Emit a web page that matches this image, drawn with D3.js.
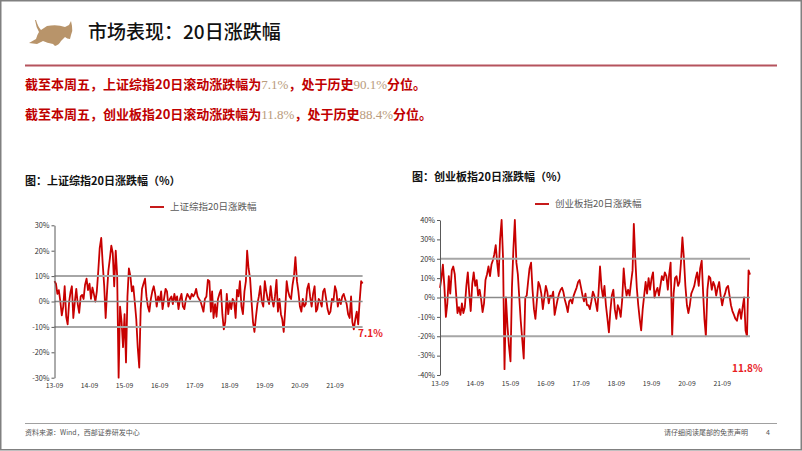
<!DOCTYPE html>
<html>
<head>
<meta charset="utf-8">
<script src="https://cdn.jsdelivr.net/npm/d3@7"></script>
<style>
  html, body { margin: 0; padding: 0; background: #fff; }
  svg { display: block; }
  text { font-family: "Noto Sans CJK SC", "Noto Sans", sans-serif; }
</style>
</head>
<body>
<svg id="page" width="802" height="451"></svg>
<script>
// ---- data ----
const startMonth = '2013-09-01';          // first point, then one point every half month
const tickMonths = ['2013-09-01','2014-09-01','2015-09-01','2016-09-01','2017-09-01',
                    '2018-09-01','2019-09-01','2020-09-01','2021-09-01'];

// 上证综指 20日涨跌幅 (%), half-monthly
const shValues = [
  8,7,3,4.5,0,-5.5,-2,6,-6,-9,
  0,4,6,-6.5,0,5,-1,-4.5,2,2.6,
  1,6.5,9,4.5,7,1,5.5,3,0,4,
  12,21,25,15,6,-6.5,3,12,17,22,
  19,6,20,10,-30,-2,-8,-18,-5,-24,
  2,13,10,4,6,0,-7,-18,-26,-3,
  5,7,9,2,-2,-4,1,4,6,3,
  -2,2,0,4,-3,1,5,4,-2,1,
  2,-1,3,0,2,-3,1,3,-2,-3,
  1,3,2,1,3,2,3,5,2,1,
  0,-2,-4,1,2,8.5,8,-4,4,-6.5,
  -1,-6,1,3,4.6,-5,-11,-8,3,-5,
  0,-3,1,0,-6.5,4.6,2,8,-2,-5,
  4,8,20,13,9,0,-8,-12,-6,-1,
  2,6,0,-2,8,4,1,-1,6,1,
  -2,2,8.5,-4,1,-5,-7,-12,-3,8,
  4,2,1,6.5,10,17.5,8,4,-2,-4,
  1,-2,-1,5,7,2,-2,3,6,-4,
  -3,1,0,-2,4,5,1,-3,-5,-4,
  1,0,6,4,-2,1,-1,2,3,1,
  -1,-5,-6.5,2,-8,-11,-7,-4,-9,0,
  8,7.1
];

// 创业板指 20日涨跌幅 (%), half-monthly
const cybValues = [
  5,10,17,6,-10,-3,11,2,14,16,
  12,1,-8,-5,-9,-3,-8,-5,6,13,
  2,-7,7,13,6,9,1,4,-1,-7.5,
  -3,9,12,16,11,17,19,22,27,18,
  11,30,40,20,-37,0,-15,-25,-33,5,
  25,40,18,12,0,-12,-22,-31.5,0,1,
  8,15,18,4,-6,-11,-1,8,6,2,
  -6,0,6,3,-3,1,0,3,-9,-5,
  -1,2,4,5,3,-1,-4,-7.5,-2,-1,
  -3,1,3,5,8,9,5,1,-2,2,
  -4,-4,-6,-2,3,1,-3,-7,3,16,
  5,0,6,-4,-11,-18,-7,1,4,-6,
  -11,-4,-6,-10,-1,15,6,1,4,1,
  8,14,38,20,5,-4,-11,-17,-6,1,
  8,2,10,4,10,13,0,3,5,1,
  6,11,9,13,11,4,12,18,-20,2,
  10,11,6,8,18,31,20,6,-4,-8,
  -4,2,4,6,10,13,6,15,19,2,
  -11,-20,4,11,10,4,8,6,1,5,
  8,1,-4,0,2,5,6,1,-4,-7,
  -9,-11,-12,-8,-6,-11,-5,0,-17,-20,
  14,11.8
];

const shTicks = [30,20,10,0,-10,-20,-30];
const cybTicks = [40,30,20,10,0,-10,-20,-30,-40];
const shBands = [10,-10,0];
const cybBands = [20,-20,0];

const shLatest = 7.1, shPercentile = 90.1;
const cybLatest = 11.8, cybPercentile = 88.4;

// ---- helpers ----
const parse = d3.timeParse('%Y-%m-%d');
const d0 = parse(startMonth);
const dateAt = i => d3.timeDay.offset(d3.timeMonth.offset(d0, Math.floor(i / 2)), (i % 2) * 15);
const tickDates = tickMonths.map(parse);
const fmtTick = d3.timeFormat('%y-%m');

const svg = d3.select('#page');

// page frame
svg.append('rect')
    .attr('x', 0.75).attr('y', 0.75)
    .attr('width', 800.5).attr('height', 449)
    .attr('fill', '#fff')
    .attr('stroke', '#808080')
    .attr('stroke-width', 1.5);

// logo (bull)
svg.append('path')
    .attr('transform', 'translate(27,17)')
    .attr('fill', '#b8946a')
    .attr('d', 'M9,3 Q11,10 14,13 L20,9 Q30,7 38,10 L42,8 L44,4 L45,9 Q46,14 44,18 L43,22 ' +
               'Q40,22 38,20 L34,24 Q32,28 28,29 L26,27 Q20,26 16,24 L10,27 L2,26 L9,22 ' +
               'Q10,18 12,15 Q9,10 8,3 Z');

// page title
svg.append('text')
    .attr('x', 88).attr('y', 39)
    .attr('font-size', 19)
    .attr('font-weight', 500)
    .attr('fill', '#111')
    .text('市场表现：20日涨跌幅');

// red rule
svg.append('line')
    .attr('x1', 25).attr('x2', 777)
    .attr('y1', 65.5).attr('y2', 65.5)
    .attr('stroke', '#b5535d')
    .attr('stroke-width', 2);

// summary lines
const summary = [
  {y: 88.5, parts: [['截至本周五，上证综指20日滚动涨跌幅为', 0], [shLatest + '%', 1],
                    ['，处于历史', 0], [shPercentile + '%', 1], ['分位。', 0]]},
  {y: 118.5, parts: [['截至本周五，创业板指20日滚动涨跌幅为', 0], [cybLatest + '%', 1],
                     ['，处于历史', 0], [cybPercentile + '%', 1], ['分位。', 0]]}
];
summary.forEach(s => {
  const t = svg.append('text').attr('x', 25).attr('y', s.y).attr('font-size', 13);
  s.parts.forEach(p => {
    t.append('tspan')
        .text(p[0])
        .attr('fill', p[1] ? '#b99b7b' : '#c00000')
        .attr('font-weight', p[1] ? 400 : 700)
        .attr('font-family', p[1] ? '"Liberation Serif", serif' : null);
  });
});

// ---- panels ----
function drawPanel(cfg) {
  const n = cfg.values.length;
  const x = d3.scaleTime()
      .domain([dateAt(0), dateAt(n - 1)])
      .range([cfg.left, cfg.right]);
  const y = d3.scaleLinear()
      .domain(cfg.yDomain)
      .range([cfg.bottom, cfg.top]);

  const g = svg.append('g');

  g.append('text')
      .attr('x', cfg.titleX).attr('y', cfg.titleY)
      .attr('font-size', 11)
      .attr('font-weight', 700)
      .attr('fill', '#111')
      .text(cfg.title);

  // legend
  g.append('line')
      .attr('x1', cfg.legendX).attr('x2', cfg.legendX + 14)
      .attr('y1', cfg.legendY).attr('y2', cfg.legendY)
      .attr('stroke', '#c00000').attr('stroke-width', 1.8);
  g.append('text')
      .attr('x', cfg.legendX + 20).attr('y', cfg.legendY + 3.3)
      .attr('font-size', 9.5)
      .attr('fill', '#595959')
      .text(cfg.legend);

  // series line
  const line = d3.line()
      .x((d, i) => x(dateAt(i)))
      .y(d => y(d));
  g.append('path')
      .datum(cfg.values)
      .attr('d', line)
      .attr('fill', 'none')
      .attr('stroke', '#c80000')
      .attr('stroke-width', 1.8)
      .attr('stroke-linejoin', 'round');

  // reference lines
  g.selectAll('line.band')
      .data(cfg.bands)
      .join('line')
      .attr('class', 'band')
      .attr('x1', cfg.left).attr('x2', x(dateAt(n - 1)))
      .attr('y1', d => y(d)).attr('y2', d => y(d))
      .attr('stroke', d => d === 0 ? '#8a8a8a' : '#a6a6a6')
      .attr('stroke-width', d => d === 0 ? 1.5 : 2);

  // y axis
  const yAxis = d3.axisLeft(y)
      .tickValues(cfg.yTicks)
      .tickSize(3)
      .tickSizeOuter(0)
      .tickPadding(2)
      .tickFormat(d => d + '%');
  const ya = g.append('g')
      .attr('transform', `translate(${cfg.left},0)`)
      .call(yAxis);
  ya.select('.domain').attr('stroke', '#595959');
  ya.selectAll('.tick line').attr('stroke', '#595959');
  ya.selectAll('.tick text')
      .attr('font-family', '"Liberation Sans", Arial, sans-serif')
      .attr('font-size', cfg.yFont)
      .attr('fill', '#333');

  // x labels
  g.selectAll('text.xl')
      .data(tickDates)
      .join('text')
      .attr('class', 'xl')
      .attr('x', d => x(d))
      .attr('y', cfg.xLabelY)
      .attr('text-anchor', 'middle')
      .attr('font-family', '"Liberation Sans", Arial, sans-serif')
      .attr('font-size', cfg.xFont)
      .attr('fill', '#333')
      .text(d => fmtTick(d));

  // latest value
  g.append('text')
      .attr('x', x(dateAt(n - 1)) + cfg.endDx)
      .attr('y', y(cfg.endAt))
      .attr('font-family', '"Liberation Sans", Arial, sans-serif')
      .attr('font-size', 10)
      .attr('font-weight', 700)
      .attr('fill', '#e8211f')
      .text(cfg.values[n - 1] + '%');
}

drawPanel({
  values: shValues, yDomain: [-30, 30], yTicks: shTicks, bands: shBands,
  left: 54.5, right: 362.6, top: 225.3, bottom: 377.7,
  title: '图：上证综指20日涨跌幅（%）', titleX: 25, titleY: 184.5,
  legend: '上证综指20日涨跌幅', legendX: 150, legendY: 207,
  xLabelY: 388, xFont: 6.8, yFont: 7.3,
  endDx: -4.5, endAt: -14.1
});

drawPanel({
  values: cybValues, yDomain: [-40, 40], yTicks: cybTicks, bands: cybBands,
  left: 440, right: 750, top: 220, bottom: 375,
  title: '图：创业板指20日涨跌幅（%）', titleX: 412, titleY: 181,
  legend: '创业板指20日涨跌幅', legendX: 535, legendY: 204,
  xLabelY: 386, xFont: 6.8, yFont: 7.3,
  endDx: -18, endAt: -38.4
});

// footer
svg.append('line')
    .attr('x1', 25).attr('x2', 777)
    .attr('y1', 423.5).attr('y2', 423.5)
    .attr('stroke', '#a0a0a0').attr('stroke-width', 1);
svg.append('text')
    .attr('x', 25).attr('y', 434.5)
    .attr('font-size', 7).attr('fill', '#555')
    .text('资料来源：Wind，西部证券研发中心');
svg.append('text')
    .attr('x', 748).attr('y', 434.5)
    .attr('text-anchor', 'end')
    .attr('font-size', 7).attr('fill', '#555')
    .text('请仔细阅读尾部的免责声明');
svg.append('text')
    .attr('x', 768).attr('y', 434.5)
    .attr('text-anchor', 'middle')
    .attr('font-size', 7).attr('fill', '#555')
    .text('4');
</script>
</body>
</html>
